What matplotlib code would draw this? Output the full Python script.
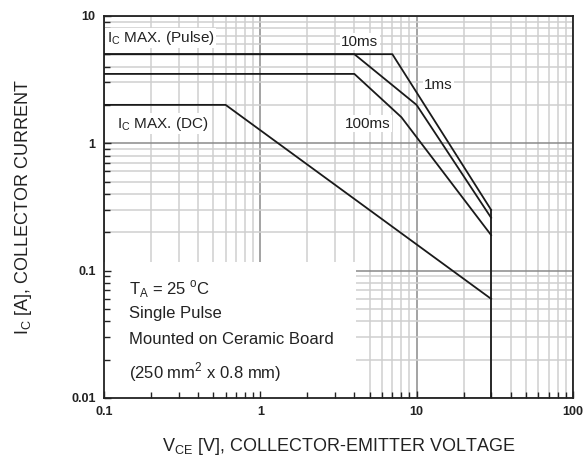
import matplotlib
matplotlib.use("Agg")
import matplotlib.pyplot as plt
from matplotlib.patches import Rectangle
from matplotlib.ticker import LogLocator, NullFormatter

plt.rcParams["font.family"] = ["Liberation Sans", "DejaVu Sans"]
plt.rcParams["mathtext.fontset"] = "custom"
plt.rcParams["mathtext.rm"] = "Liberation Sans"

# Safe operating area curves (V_CE in V, I_C in A)
v_1ms = [0.1, 7, 30]
i_1ms = [5, 5, 0.3]
v_10ms = [0.1, 4, 10, 30]
i_10ms = [5, 5, 2, 0.26]
v_100ms = [0.1, 4, 8, 30]
i_100ms = [3.5, 3.5, 1.6, 0.19]
v_dc = [0.1, 0.6, 30]
i_dc = [2, 2, 0.06]
v_limit = [30, 30]
i_limit = [0.3, 0.01]

x_ticks = [0.1, 1, 10, 100]
x_tick_labels = ["0.1", "1", "10", "100"]
y_ticks = [0.01, 0.1, 1, 10]
y_tick_labels = ["0.01", "0.1", "1", "10"]

box_lines = [
    r"T$_\mathregular{A}$ = 25 $^\mathregular{o}$C",
    "Single Pulse",
    "Mounted on Ceramic Board",
    r"(250 mm$^\mathregular{2}$ x 0.8 mm)",
]

text_color = "#222222"
pos = [0.1775, 0.146, 0.8, 0.82]

fig = plt.figure(figsize=(5.86, 4.66), dpi=100)

# background axes only carries the grid
bg = fig.add_axes(pos)
bg.set_xscale("log")
bg.set_yscale("log")
bg.set_xlim(0.1, 100)
bg.set_ylim(0.01, 10)
bg.xaxis.set_minor_locator(LogLocator(base=10, subs=range(2, 10)))
bg.yaxis.set_minor_locator(LogLocator(base=10, subs=range(2, 10)))
bg.grid(True, which="minor", color="#cfcfcf", linewidth=1.1)
bg.grid(True, which="major", color="#8a8a8a", linewidth=1.1)
bg.tick_params(which="both", length=0, labelbottom=False, labelleft=False)
for spine in bg.spines.values():
    spine.set_visible(False)

# main axes with curves, ticks and frame
ax = fig.add_axes(pos)
ax.set_facecolor("none")
ax.set_xscale("log")
ax.set_yscale("log")
ax.set_xlim(0.1, 100)
ax.set_ylim(0.01, 10)

ax.add_patch(Rectangle((0, 0), 0.537, 0.356, transform=ax.transAxes,
                       facecolor="white", edgecolor="none", zorder=1))

line_kw = dict(color="#1a1a1a", linewidth=1.3, zorder=3)
ax.plot(v_1ms, i_1ms, **line_kw)
ax.plot(v_10ms, i_10ms, **line_kw)
ax.plot(v_100ms, i_100ms, **line_kw)
ax.plot(v_dc, i_dc, **line_kw)
ax.plot(v_limit, i_limit, **line_kw)

ax.set_xticks(x_ticks, x_tick_labels)
ax.set_yticks(y_ticks, y_tick_labels)
ax.xaxis.set_minor_locator(LogLocator(base=10, subs=range(2, 10)))
ax.yaxis.set_minor_locator(LogLocator(base=10, subs=range(2, 10)))
ax.xaxis.set_minor_formatter(NullFormatter())
ax.yaxis.set_minor_formatter(NullFormatter())
ax.tick_params(which="both", direction="in", top=False, right=False,
               color="#222222", width=1.0)
ax.tick_params(which="major", length=5, labelsize=9, pad=6)
ax.tick_params(which="minor", length=4)
for lbl in ax.get_xticklabels() + ax.get_yticklabels():
    lbl.set_fontweight("bold")
    lbl.set_color(text_color)
for spine in ax.spines.values():
    spine.set_linewidth(1.3)
    spine.set_color("#222222")

label_box = dict(facecolor="white", edgecolor="none", pad=1)
ax.text(0.104, 6.7, r"I$_\mathregular{C}$ MAX. (Pulse)", fontsize=11,
        color=text_color, va="center", bbox=label_box, zorder=4)
ax.text(0.121, 1.42, r"I$_\mathregular{C}$ MAX. (DC)", fontsize=11,
        color=text_color, va="center", bbox=label_box, zorder=4)
ax.text(3.3, 6.25, "10ms", fontsize=11, color=text_color, va="center",
        bbox=label_box, zorder=4)
ax.text(11.2, 2.88, "1ms", fontsize=11, color=text_color, va="center",
        bbox=label_box, zorder=4)
ax.text(3.5, 1.42, "100ms", fontsize=11, color=text_color, va="center",
        bbox=label_box, zorder=4)

for y_frac, line in zip([0.285, 0.22, 0.152, 0.068], box_lines):
    ax.text(0.053, y_frac, line, transform=ax.transAxes, fontsize=12,
            color=text_color, va="center", zorder=4)

ax.set_xlabel(r"V$_\mathregular{CE}$ [V], COLLECTOR-EMITTER VOLTAGE",
              fontsize=13, color=text_color, labelpad=13)
ax.set_ylabel(r"I$_\mathregular{C}$ [A], COLLECTOR CURRENT",
              fontsize=13, color=text_color, labelpad=27)

fig.savefig("out.png", dpi=100, facecolor="white")
